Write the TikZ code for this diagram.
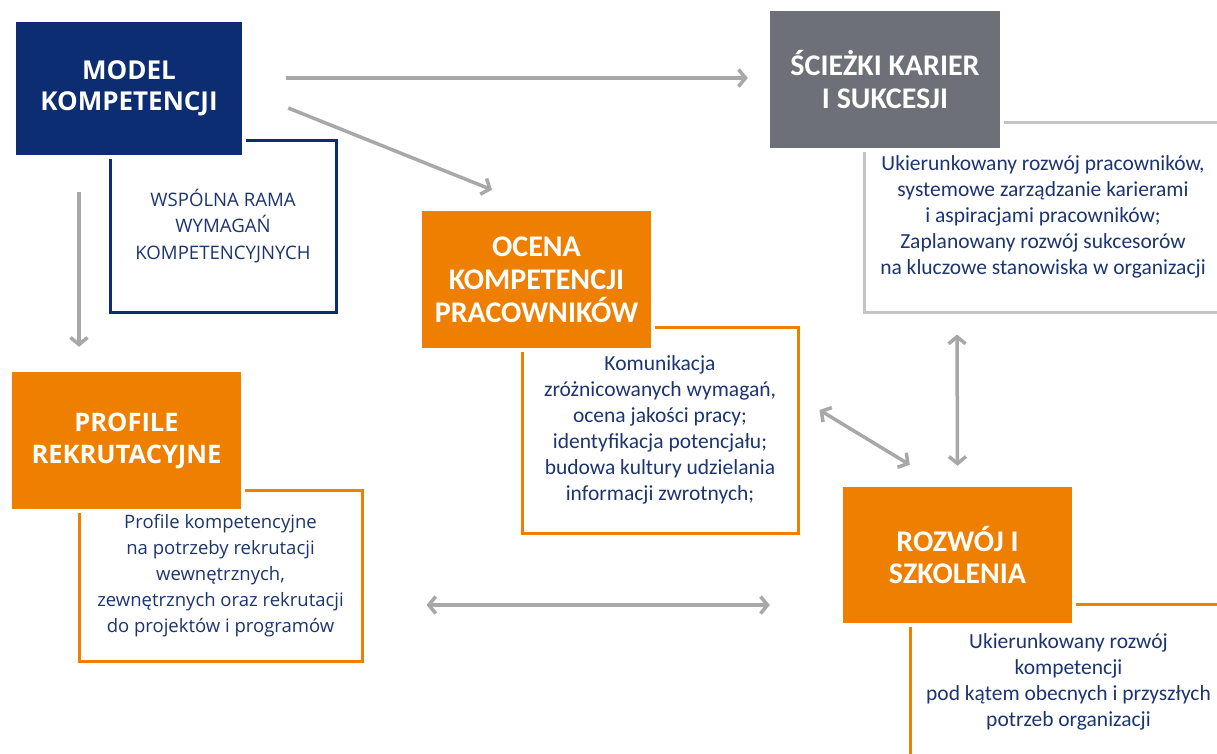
\documentclass[tikz,border=0pt]{standalone}
\usepackage{fontspec}
\usetikzlibrary{arrows.meta,calc}
\newfontfamily\osans{Open Sans}
\newfontfamily\carl{Carlito}
\definecolor{navybox}{HTML}{0C2D72}
\definecolor{navytext}{HTML}{1C3571}
\definecolor{orangebox}{HTML}{EE7F00}
\definecolor{graybox}{HTML}{6E7079}
\definecolor{lightline}{HTML}{C4C4C6}
\definecolor{arrowgray}{HTML}{A8A8A8}
\tikzset{
  titlebox/.style={inner sep=0pt, align=center, text=white,
    preaction={draw=white, line width=8pt}},
  framebox/.style={inner sep=0pt, align=center, text=navytext, line width=3pt},
  conn/.style={draw=arrowgray, line width=3.5pt,
    arrows={-Straight Barb[length=7pt,width=17pt]}},
  dconn/.style={draw=arrowgray, line width=3.5pt,
    arrows={Straight Barb[length=7pt,width=17pt]-Straight Barb[length=7pt,width=17pt]}},
  osbold/.style={font={\osans\bfseries\fontsize{26}{31}\selectfont}},
  cabold/.style={font={\carl\bfseries\fontsize{30}{33}\selectfont}},
  osreg/.style={font={\osans\fontsize{18.5}{26}\selectfont}},
  careg/.style={font={\carl\fontsize{21.5}{26}\selectfont}},
}
\begin{document}
\begin{tikzpicture}[x=1pt,y=-1pt]
\useasboundingbox (0,0) rectangle (1217,753);
\clip (0,0) rectangle (1217,753);
\fill[white] (0,0) rectangle (1217,753);

% frames (drawn first)
\node[framebox, draw=navybox, minimum width=226pt, minimum height=172pt, font={\osans\fontsize{18.6}{26.5}\selectfont}]
  (ramaText) at (223,226) {WSPÓLNA RAMA\\WYMAGAŃ\\KOMPETENCYJNYCH};
\node[framebox, draw=lightline, minimum width=358pt, minimum height=190pt, careg]
  (sciezkiText) at (1043,217) {Ukierunkowany rozwój pracowników,\\systemowe zarządzanie karierami\\i aspiracjami pracowników;\\Zaplanowany rozwój sukcesorów\\na kluczowe stanowiska w organizacji};
\node[framebox, draw=orangebox, minimum width=276pt, minimum height=206pt, careg]
  (ocenaText) at (660,430) {Komunikacja\\zróżnicowanych wymagań,\\ocena jakości pracy;\\identyfikacja potencjału;\\budowa kultury udzielania\\informacji zwrotnych;};
\node[framebox, draw=orangebox, minimum width=283pt, minimum height=171pt, osreg]
  (profileText) at (220.5,575.5) {Profile kompetencyjne\\na potrzeby rekrutacji\\wewnętrznych,\\zewnętrznych oraz rekrutacji\\do projektów i programów};
\node[framebox, draw=orangebox, minimum width=317pt, minimum height=156pt, careg]
  (rozwojText) at (1068.5,682) {Ukierunkowany rozwój\\kompetencji\\pod kątem obecnych i przyszłych\\potrzeb organizacji};

% title boxes
\node[titlebox, fill=navybox, minimum width=226pt, minimum height=133pt, osbold]
  (model) at (129,88.5) {MODEL\\KOMPETENCJI};
\node[titlebox, fill=graybox, minimum width=230pt, minimum height=137pt, cabold]
  (sciezki) at (885,79.5) {ŚCIEŻKI KARIER\\I SUKCESJI};
\node[titlebox, fill=orangebox, minimum width=229pt, minimum height=137pt, cabold]
  (ocena) at (536.5,279.5) {OCENA\\KOMPETENCJI\\PRACOWNIKÓW};
\node[titlebox, fill=orangebox, minimum width=229pt, minimum height=137pt, font={\osans\bfseries\fontsize{25.5}{32}\selectfont}]
  (profile) at (126.5,440.5) {PROFILE\\REKRUTACYJNE};
\node[titlebox, fill=orangebox, minimum width=229pt, minimum height=136pt, font={\carl\bfseries\fontsize{30}{32}\selectfont}]
  (rozwoj) at (957.5,555) {ROZWÓJ I\\SZKOLENIA};

% connectors
\draw[conn] ($(model.east)+(44,-10.5)$) -- ($(sciezki.west)+(-22,-1.5)$);
\draw[conn] ($(model.east)+(46,19.5)$) -- ($(ocena.north)+(-44.5,-21)$);
\draw[conn] ($(model.south)+(-50,37)$) -- ($(profile.north)+(-47.5,-25)$);
\draw[dconn] ($(sciezkiText.south)+(-86,21)$) -- ($(rozwoj.north)+(0,-21)$);
\draw[dconn] ($(ocenaText.east)+(20,-20)$) -- ($(rozwoj.north west)+(67,-22)$);
\draw[dconn] ($(profileText.east)+(63,29.5)$) -- ($(rozwoj.west)+(-73,50)$);
\end{tikzpicture}
\end{document}
